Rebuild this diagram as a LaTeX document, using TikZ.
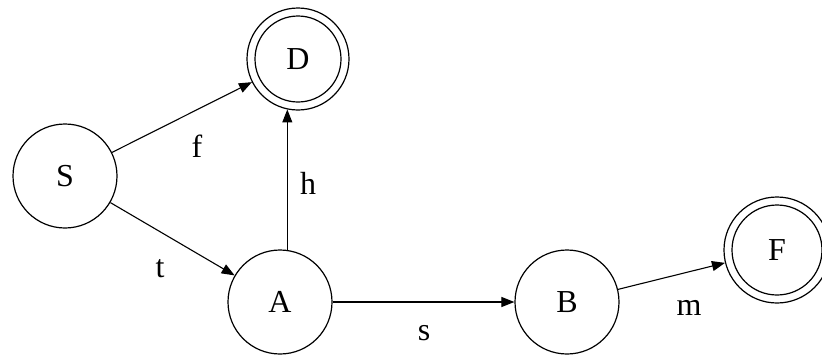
\documentclass[tikz,border=0pt]{standalone}
\usepackage{fontspec}
\setmainfont{Liberation Serif}
\usetikzlibrary{arrows.meta}
\begin{document}
\begin{tikzpicture}[x=1pt,y=-1pt,
  state/.style={circle,draw,line width=1.2pt,minimum size=104pt,inner sep=0pt,font=\fontsize{32}{36}\selectfont},
  edge/.style={-{Triangle[length=13pt,width=10pt]},line width=1.1pt},
  lab/.style={anchor=base,inner sep=0pt,font=\fontsize{32}{36}\selectfont}]
\useasboundingbox[fill=white] (0,0) rectangle (822,354);
\node[state] (S) at (65,176) {S};
\node[state,minimum size=102pt] (D) at (298,59) {D};
\draw[line width=1.2pt] (D.center) circle (43);
\node[state] (A) at (280,302) {A};
\node[state] (B) at (567,302) {B};
\node[state,minimum size=106pt] (F) at (777,250) {F};
\draw[line width=1.2pt] (F.center) circle (45);
\draw[edge] (S) -- (D);
\draw[edge] (S) -- (A);
\draw[edge] (A.82) -- (A.82 |- D.-102.5);
\draw[edge] (A) -- (B);
\draw[edge] (B) -- (F);
\node[lab] (lf) at (197,157) {f};
\node[lab] (lh) at (308,194) {h};
\node[lab] (lt) at (160,277) {t};
\node[lab] (ls) at (424,340) {s};
\node[lab] (lm) at (689,315) {m};
\end{tikzpicture}
\end{document}
